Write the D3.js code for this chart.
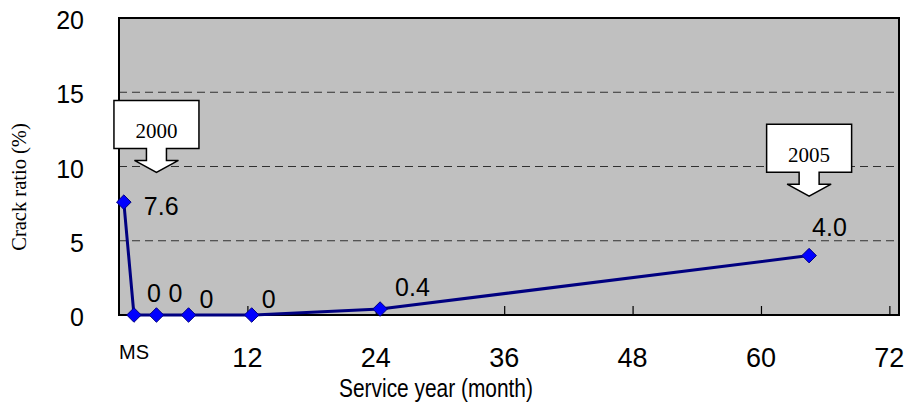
<!DOCTYPE html>
<html>
<head>
<meta charset="utf-8">
<script src="https://cdn.jsdelivr.net/npm/d3@7"></script>
<style>
  html, body { margin: 0; padding: 0; background: #ffffff; }
  svg { display: block; }
</style>
</head>
<body>
<svg id="chart" width="907" height="406"></svg>
<script>
// Crack ratio observed over service time
const months = [0.45, 1.4, 3.5, 6.5, 12.4, 24.4, 64.5];
const crackRatio = [7.6, 0, 0, 0, 0, 0.4, 4.0];

// axis ticks
const xTicks = [12, 24, 36, 48, 60, 72];
const yTicks = [0, 5, 10, 15, 20];
const gridValues = [5, 10, 15];

// year callouts: label, month under the arrow tip, tip height (%)
const calloutLabels = ["2000", "2005"];
const calloutMonths = [3.5, 64.5];
const calloutTips = [9.6, 8.0];

const svg = d3.select("#chart");
const plot = { left: 119, right: 899, top: 18, bottom: 315 };

const x = d3.scaleLinear().domain([0, 72.9]).range([plot.left, plot.right]);
const y = d3.scaleLinear().domain([0, 20]).range([plot.bottom, plot.top]);

const sans = "'Liberation Sans', Arial, sans-serif";
const serif = "'Liberation Serif', 'Times New Roman', serif";

// plot background
svg.append("rect")
  .attr("x", plot.left).attr("y", plot.top)
  .attr("width", plot.right - plot.left).attr("height", plot.bottom - plot.top)
  .attr("fill", "#c0c0c0");

// dashed gridlines
svg.append("g").selectAll("line").data(gridValues).join("line")
  .attr("x1", plot.left).attr("x2", plot.right)
  .attr("y1", d => y(d)).attr("y2", d => y(d))
  .attr("stroke", "#303030").attr("stroke-width", 1)
  .attr("stroke-dasharray", "8,5");

// x axis: inward ticks, labels drawn separately
const xAxis = d3.axisTop(x).tickValues(xTicks).tickSize(9).tickFormat("");
const gx = svg.append("g").attr("transform", `translate(0,${plot.bottom})`).call(xAxis);
gx.select(".domain").remove();
gx.selectAll(".tick line").attr("stroke", "#000").attr("stroke-width", 1.2);

svg.append("g").selectAll("text").data(xTicks).join("text")
  .attr("x", d => x(d)).attr("y", 367)
  .attr("text-anchor", "middle")
  .attr("font-family", sans).attr("font-size", 27).attr("fill", "#000")
  .text(d => d);

svg.append("text")
  .attr("x", x(0)).attr("y", 359)
  .attr("font-family", sans).attr("font-size", 20).attr("fill", "#000")
  .text("MS");

// y axis labels
const yAxis = d3.axisLeft(y).tickValues(yTicks).tickSize(0).tickPadding(35);
const gy = svg.append("g").attr("transform", `translate(${plot.left},0)`).call(yAxis);
gy.select(".domain").remove();
gy.selectAll(".tick text")
  .attr("font-family", sans).attr("font-size", 25).attr("fill", "#000")
  .attr("dy", "0.32em").attr("y", 2.5);

// frame
svg.append("rect")
  .attr("x", plot.left).attr("y", plot.top)
  .attr("width", plot.right - plot.left).attr("height", plot.bottom - plot.top)
  .attr("fill", "none").attr("stroke", "#000").attr("stroke-width", 2);

// axis titles
svg.append("text")
  .attr("transform", `translate(436,397) scale(0.82,1)`)
  .attr("text-anchor", "middle")
  .attr("font-family", sans).attr("font-size", 25.5).attr("fill", "#000")
  .text("Service year (month)");

svg.append("text")
  .attr("transform", "translate(26,187) rotate(-90)")
  .attr("text-anchor", "middle")
  .attr("font-family", serif).attr("font-size", 20.5).attr("fill", "#000")
  .text("Crack ratio (%)");

// series line
const pts = months.map((m, i) => [m, crackRatio[i]]);
svg.append("path")
  .datum(pts)
  .attr("fill", "none").attr("stroke", "#000080").attr("stroke-width", 3)
  .attr("stroke-linejoin", "round")
  .attr("d", d3.line().x(d => x(d[0])).y(d => y(d[1])));

// diamond markers
const diamond = d3.symbol().type(d3.symbolDiamond2).size(135);
svg.append("g").selectAll("path").data(pts).join("path")
  .attr("transform", d => `translate(${x(d[0])},${y(d[1])})`)
  .attr("d", diamond)
  .attr("fill", "#0000ff").attr("stroke", "#000080").attr("stroke-width", 1);

// value labels, nudged off each marker
const labelNudge = [[20, 13], [13, -13], [12, -13], [11, -7], [10, -7], [15, -13], [3, -20]];
svg.append("g").selectAll("text").data(pts).join("text")
  .attr("x", (d, i) => x(d[0]) + labelNudge[i][0])
  .attr("y", (d, i) => y(d[1]) + labelNudge[i][1])
  .attr("font-family", sans).attr("font-size", 25).attr("fill", "#000")
  .text(d => d[1] === 0 ? "0" : d[1].toFixed(1));

// year callouts: box with a downward arrow
const boxW = 85, boxH = 48, stemW = 20, stemH = 12, headW = 44, headH = 12;
calloutLabels.forEach((label, i) => {
  const tx = x(calloutMonths[i]);
  const ty = y(calloutTips[i]);
  const top = ty - headH - stemH - boxH;
  const bot = top + boxH;
  const p = d3.path();
  p.moveTo(tx - boxW / 2, top);
  p.lineTo(tx + boxW / 2, top);
  p.lineTo(tx + boxW / 2, bot);
  p.lineTo(tx + stemW / 2, bot);
  p.lineTo(tx + stemW / 2, bot + stemH);
  p.lineTo(tx + headW / 2, bot + stemH);
  p.lineTo(tx, ty);
  p.lineTo(tx - headW / 2, bot + stemH);
  p.lineTo(tx - stemW / 2, bot + stemH);
  p.lineTo(tx - stemW / 2, bot);
  p.lineTo(tx - boxW / 2, bot);
  p.closePath();
  svg.append("path").attr("d", p.toString())
    .attr("fill", "#ffffff").attr("stroke", "#000").attr("stroke-width", 1.5)
    .attr("stroke-linejoin", "miter");
  svg.append("text")
    .attr("x", tx).attr("y", top + 38)
    .attr("text-anchor", "middle")
    .attr("font-family", serif).attr("font-size", 21).attr("fill", "#000")
    .text(label);
});
</script>
</body>
</html>
